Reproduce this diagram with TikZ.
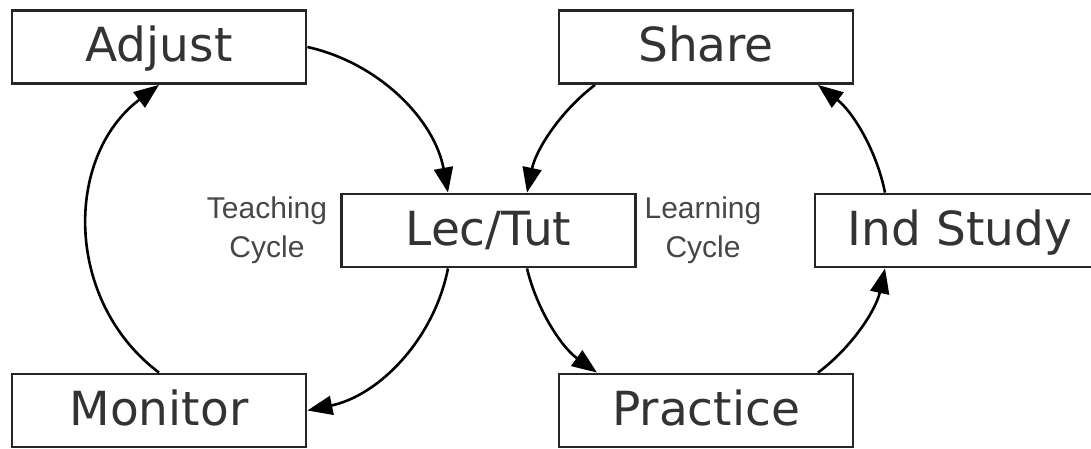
\documentclass[tikz,border=0pt]{standalone}
\usepackage{fontspec}
\setmainfont{DejaVu Sans}
\newfontfamily\labelfont{Liberation Sans}
\usetikzlibrary{arrows.meta}
\begin{document}
\begin{tikzpicture}[x=1pt,y=1pt,
  stage/.style={draw=black!85, line width=2.8pt, fill=white,
    minimum width=294pt, minimum height=73pt, inner sep=0pt,
    text height=38pt, text depth=8.6pt,
    font=\fontsize{47}{56}\selectfont, text=black!80},
  cyclelabel/.style={align=center, font=\labelfont\fontsize{30}{39}\selectfont, text=black!72},
  flow/.style={line width=2.6pt, -{Triangle[length=25pt,width=19pt]}},
]
\useasboundingbox (0,0) rectangle (1091,448);

% stages
\node[stage] (adjust)   at (159,401)   {Adjust};
\node[stage] (share)    at (706,401)   {Share};
\node[stage] (lectut)   at (488.5,217.5) {Lec/Tut};
\node[stage, minimum width=290pt] (indstudy) at (960,217.5) {Ind Study};
\node[stage] (monitor)  at (159,37.5)  {Monitor};
\node[stage] (practice) at (706,37.5)  {Practice};

% cycle names
\node[cyclelabel] (teachlbl) at (267,218) {Teaching\\Cycle};
\node[cyclelabel] (learnlbl) at (703,218) {Learning\\Cycle};

% teaching cycle (clockwise)
\draw[flow] (adjust.east) to[bend left=33.5, looseness=0.93] ([xshift=-40.5pt]lectut.north);
\draw[flow] ([xshift=-40.5pt]lectut.south) to[bend left=33.5, looseness=0.93] (monitor.east);
\draw[flow] (monitor.north) to[bend left=53, looseness=1.06] (adjust.south);

% learning cycle (counter-clockwise)
\draw[flow] ([xshift=-111pt]share.south) to[bend right=20.5, looseness=0.88] ([xshift=38.5pt]lectut.north);
\draw[flow] ([xshift=38.5pt]lectut.south) to[bend right=20.5, looseness=0.88] ([xshift=-109pt]practice.north);
\draw[flow] ([xshift=112pt]practice.north) to[bend right=20.5, looseness=0.88] ([xshift=-75pt]indstudy.south);
\draw[flow] ([xshift=-75pt]indstudy.north) to[bend right=20.5, looseness=0.88] ([xshift=112pt]share.south);
\end{tikzpicture}
\end{document}
